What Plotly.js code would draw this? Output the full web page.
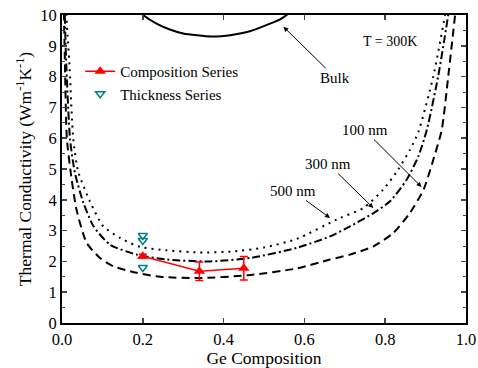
<!DOCTYPE html>
<html><head><meta charset="utf-8">
<script src="https://cdn.plot.ly/plotly-3.0.1.min.js"></script>
<style>body{margin:0;background:#fff}#chart{width:478px;height:368px}</style>
</head><body><div id="chart"></div>
<script>
// Bulk curve (solid)
const bulkX = [0.19, 0.201, 0.234, 0.267, 0.30, 0.37, 0.42, 0.465, 0.515, 0.54, 0.556, 0.57];
const bulkY = [10.15, 10.0, 9.72, 9.53, 9.40, 9.30, 9.35, 9.47, 9.72, 9.86, 10.0, 10.12];
// 500 nm film (dotted)
const f500X = [0.008, 0.014, 0.018, 0.028, 0.040, 0.069, 0.102, 0.144, 0.193, 0.259, 0.34, 0.42, 0.50, 0.581, 0.688, 0.746, 0.795, 0.832, 0.861, 0.882, 0.919, 0.948, 0.955];
const f500Y = [10.5, 9.3, 8.5, 5.95, 4.92, 3.95, 3.14, 2.76, 2.47, 2.36, 2.29, 2.32, 2.45, 2.73, 3.41, 3.73, 4.33, 4.98, 5.62, 6.2, 8.0, 10.0, 10.6];
// 300 nm film (dash-dot)
const f300X = [0.006, 0.010, 0.020, 0.032, 0.053, 0.078, 0.119, 0.185, 0.259, 0.366, 0.47, 0.581, 0.663, 0.713, 0.771, 0.812, 0.853, 0.882, 0.903, 0.931, 0.956, 0.962];
const f300Y = [10.5, 8.6, 5.95, 4.87, 3.90, 3.14, 2.54, 2.22, 2.06, 2.00, 2.12, 2.44, 2.81, 3.14, 3.57, 3.95, 4.65, 5.41, 6.27, 8.0, 10.0, 10.6];
// 100 nm film (dashed)
const f100X = [0.004, 0.007, 0.012, 0.024, 0.036, 0.061, 0.094, 0.127, 0.185, 0.243, 0.34, 0.46, 0.581, 0.663, 0.713, 0.771, 0.820, 0.861, 0.895, 0.919, 0.940, 0.956, 0.973, 0.978];
const f100Y = [10.5, 8.6, 6.0, 4.65, 3.68, 2.60, 2.11, 1.84, 1.63, 1.50, 1.46, 1.55, 1.77, 2.06, 2.22, 2.49, 2.92, 3.57, 4.33, 5.30, 6.27, 8.0, 10.0, 10.6];
// Composition series
const compX = [0.20, 0.34, 0.45];
const compY = [2.17, 1.68, 1.78];
const compErr = [0.06, 0.30, 0.38];
// Thickness series
const thickX = [0.20, 0.20, 0.20];
const thickY = [2.84, 2.68, 1.80];

const serif = 'Liberation Serif, Times New Roman, serif';
const lineTrace = (x, y, dash) => ({x, y, mode: 'lines', type: 'scatter', showlegend: false,
  line: {color: '#000', width: 2, dash: dash, shape: 'spline', smoothing: 0.6}, hoverinfo: 'skip'});

const data = [
  lineTrace(bulkX, bulkY, 'solid'),
  lineTrace(f500X, f500Y, '2px,5px'),
  lineTrace(f300X, f300Y, '8px,3px,2px,3px'),
  lineTrace(f100X, f100Y, '8px,5px'),
  {x: compX, y: compY, type: 'scatter', mode: 'lines+markers', name: 'Composition Series',
   line: {color: '#ff0000', width: 1.5},
   marker: {symbol: 'triangle-up', size: 10, color: '#ff0000'},
   error_y: {type: 'data', array: compErr, visible: true, color: '#ff0000', thickness: 1.5, width: 4}},
  {x: thickX, y: thickY, type: 'scatter', mode: 'markers', name: 'Thickness Series',
   marker: {symbol: 'triangle-down-open', size: 8, color: '#008080', line: {width: 1.5, color: '#008080'}}}
];

const ann = (x, y, text, ax, ay) => ({x, y, xref: 'x', yref: 'y', text, showarrow: true, ax, ay,
  arrowhead: 2, arrowsize: 1, arrowwidth: 1, arrowcolor: '#000', font: {family: serif, size: 15, color: '#000'}});

const layout = {
  width: 478, height: 368,
  margin: {l: 62, r: 12, t: 15, b: 45},
  paper_bgcolor: '#fff', plot_bgcolor: '#fff',
  font: {family: serif, size: 15, color: '#000'},
  showlegend: true,
  legend: {x: 0.045, y: 0.87, xanchor: 'left', yanchor: 'top', bgcolor: 'rgba(0,0,0,0)',
    font: {family: serif, size: 15, color: '#000'}, tracegroupgap: 0},
  xaxis: {range: [0, 1], dtick: 0.2, tick0: 0, tickformat: '.1f', ticks: 'inside', ticklen: 5, tickwidth: 1.5,
    showline: true, linewidth: 2, linecolor: '#000', mirror: 'allticks', showgrid: false, zeroline: false,
    tickfont: {family: serif, size: 16.5},
    title: {text: 'Ge Composition', font: {family: serif, size: 17.5}, standoff: 5}},
  yaxis: {range: [0, 10], dtick: 1, tick0: 0, ticks: 'inside', ticklen: 5, tickwidth: 1.5,
    minor: {dtick: 0.5, ticks: 'inside', ticklen: 3, tickwidth: 1},
    showline: true, linewidth: 2, linecolor: '#000', mirror: 'allticks', showgrid: false, zeroline: false,
    tickfont: {family: serif, size: 16.5},
    title: {text: 'Thermal Conductivity (Wm<sup>-1</sup>K<sup>-1</sup>)', font: {family: serif, size: 17.5}, standoff: 4}},
  annotations: [
    ann(0.548, 9.62, 'Bulk', 52, 51),
    ann(0.890, 4.415, '100 nm', -57, -57),
    ann(0.7706, 3.734, '300 nm', -45, -44),
    ann(0.6634, 3.41, '500 nm', -37, -27),
    {x: (390-62)/404, y: 10 - (41.7-15)/30.85, xref: 'x', yref: 'y', text: 'T = 300K', showarrow: false,
     font: {family: serif, size: 14, color: '#000'}}
  ]
};

Plotly.newPlot('chart', data, layout, {staticPlot: true, displayModeBar: false});
</script>
</body></html>
